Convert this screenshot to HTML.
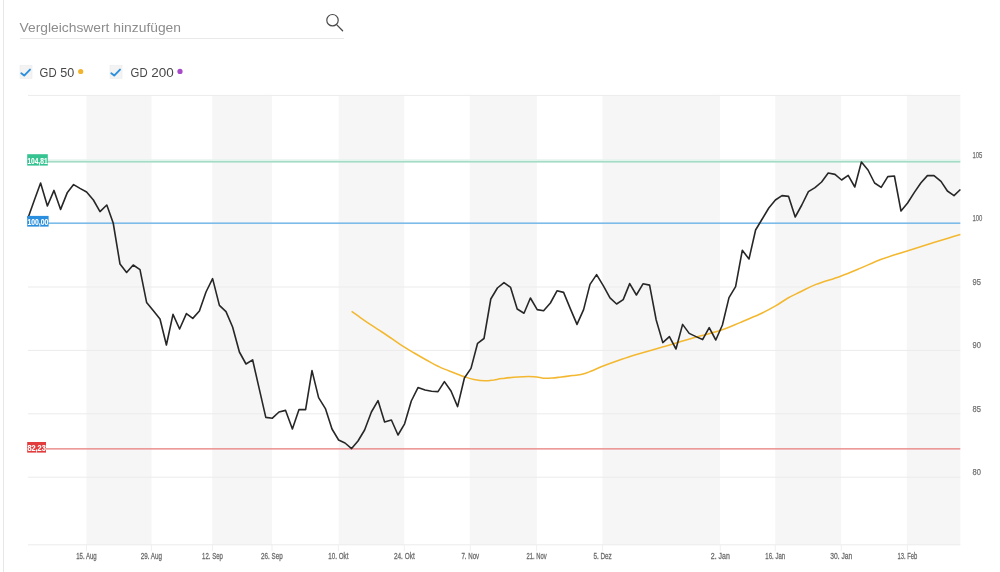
<!DOCTYPE html>
<html><head><meta charset="utf-8"><title>Chart</title>
<style>
html,body{margin:0;padding:0;background:#fff;}
body{width:1000px;height:572px;position:relative;overflow:hidden;font-family:"Liberation Sans",sans-serif;}
svg text{font-family:"Liberation Sans",sans-serif;}
.vline{position:absolute;left:3px;top:0;width:1px;height:572px;background:#e7e7e7;}
.search{position:absolute;left:20px;top:38px;width:323.5px;height:1px;background:#e9e9e9;}
.ph{position:absolute;left:19.5px;top:19px;font-size:13px;line-height:16px;color:#8d8d8d;white-space:nowrap;transform-origin:0 0;}
.lbl{position:absolute;top:64px;font-size:13px;line-height:16px;color:#4a4a4a;white-space:nowrap;transform-origin:0 0;}
</style></head><body>
<div class="vline"></div>
<div class="search"></div>
<svg width="1000" height="572" viewBox="0 0 1000 572" style="position:absolute;left:0;top:0;will-change:transform">
<rect x="86.5" y="95.4" width="65.0" height="449.4" fill="#f6f6f6"/>
<rect x="212.3" y="95.4" width="59.6" height="449.4" fill="#f6f6f6"/>
<rect x="338.7" y="95.4" width="65.5" height="449.4" fill="#f6f6f6"/>
<rect x="469.8" y="95.4" width="67.0" height="449.4" fill="#f6f6f6"/>
<rect x="602.5" y="95.4" width="117.4" height="449.4" fill="#f6f6f6"/>
<rect x="775.3" y="95.4" width="65.8" height="449.4" fill="#f6f6f6"/>
<rect x="906.8" y="95.4" width="53.5" height="449.4" fill="#f6f6f6"/>
<rect x="28" y="94.9" width="932.3" height="1" fill="#ebebeb"/>
<rect x="28" y="159.7" width="932.3" height="1" fill="#ebebeb"/>
<rect x="28" y="223.1" width="932.3" height="1" fill="#ebebeb"/>
<rect x="28" y="286.5" width="932.3" height="1" fill="#ebebeb"/>
<rect x="28" y="349.9" width="932.3" height="1" fill="#ebebeb"/>
<rect x="28" y="413.3" width="932.3" height="1" fill="#ebebeb"/>
<rect x="28" y="476.7" width="932.3" height="1" fill="#ebebeb"/>
<rect x="28" y="544.3" width="932.3" height="1" fill="#ebebeb"/>
<rect x="86.0" y="544.8" width="1" height="6.5" fill="#f0f0f0"/>
<rect x="150.9" y="544.8" width="1" height="6.5" fill="#f0f0f0"/>
<rect x="212.0" y="544.8" width="1" height="6.5" fill="#f0f0f0"/>
<rect x="271.5" y="544.8" width="1" height="6.5" fill="#f0f0f0"/>
<rect x="337.9" y="544.8" width="1" height="6.5" fill="#f0f0f0"/>
<rect x="403.8" y="544.8" width="1" height="6.5" fill="#f0f0f0"/>
<rect x="469.8" y="544.8" width="1" height="6.5" fill="#f0f0f0"/>
<rect x="536.1" y="544.8" width="1" height="6.5" fill="#f0f0f0"/>
<rect x="602.1" y="544.8" width="1" height="6.5" fill="#f0f0f0"/>
<rect x="719.8" y="544.8" width="1" height="6.5" fill="#f0f0f0"/>
<rect x="774.8" y="544.8" width="1" height="6.5" fill="#f0f0f0"/>
<rect x="840.8" y="544.8" width="1" height="6.5" fill="#f0f0f0"/>
<rect x="906.9" y="544.8" width="1" height="6.5" fill="#f0f0f0"/>
<rect x="28" y="159.5" width="932.3" height="1.4" fill="#e0f5ed"/>
<rect x="28" y="161.0" width="932.3" height="1.6" fill="#a3dcc6"/>
<rect x="28" y="222.5" width="932.3" height="1.3" fill="#62aee8"/>
<rect x="28" y="448.1" width="932.3" height="1.5" fill="#ec8f8f"/>
<path d="M351.6,311.3 C353.1,312.4 357.6,315.6 360.7,317.8 C363.8,320.0 366.8,322.1 370.2,324.4 C373.6,326.7 377.5,329.1 381.2,331.5 C384.9,333.9 388.5,336.4 392.2,338.9 C395.9,341.4 399.5,344.0 403.2,346.4 C406.9,348.8 410.3,350.7 414.2,353.0 C418.1,355.3 422.6,357.9 426.8,360.2 C431.0,362.5 435.2,364.9 439.4,366.9 C443.6,368.9 447.8,370.4 452.0,372.0 C456.2,373.6 460.9,375.6 464.6,376.8 C468.3,378.0 470.6,378.8 474.0,379.4 C477.4,380.0 481.7,380.6 485.0,380.7 C488.3,380.8 491.2,380.2 494.0,379.9 C496.8,379.5 498.0,379.1 502.0,378.6 C506.0,378.1 512.7,377.2 518.0,376.9 C523.3,376.6 529.7,376.5 534.0,376.7 C538.3,376.9 540.6,378.0 543.6,378.2 C546.6,378.4 549.3,378.2 552.0,378.0 C554.7,377.8 556.2,377.6 559.6,377.2 C563.0,376.8 568.7,376.1 572.4,375.6 C576.1,375.1 579.1,375.0 582.0,374.3 C584.9,373.6 586.8,372.9 590.0,371.6 C593.2,370.4 597.2,368.4 601.2,366.8 C605.2,365.2 609.2,363.7 614.0,362.0 C618.8,360.3 625.7,357.8 630.0,356.4 C634.3,355.0 635.0,354.8 640.0,353.4 C645.0,352.0 653.3,349.7 660.0,347.8 C666.7,345.9 673.3,343.8 680.0,341.8 C686.7,339.8 693.3,337.9 700.0,336.0 C706.7,334.1 713.3,332.8 720.0,330.6 C726.7,328.4 733.3,325.4 740.0,322.6 C746.7,319.8 754.0,316.8 760.0,314.0 C766.0,311.2 771.3,308.3 776.0,305.6 C780.7,302.9 784.0,300.3 788.0,298.0 C792.0,295.7 795.3,294.3 800.0,292.0 C804.7,289.7 809.3,287.0 816.0,284.4 C822.7,281.8 832.7,279.1 840.0,276.4 C847.3,273.7 853.0,271.3 860.0,268.4 C867.0,265.5 874.7,261.8 882.0,259.1 C889.3,256.4 896.7,254.3 904.0,252.0 C911.3,249.7 918.7,247.3 926.0,245.0 C933.3,242.7 942.3,239.9 948.0,238.2 C953.7,236.5 958.3,235.2 960.4,234.6" fill="none" stroke="#f3b830" stroke-width="1.55" stroke-linejoin="round" stroke-linecap="butt"/>
<polyline points="28.0,218.0 34.4,200.0 40.6,183.0 47.4,206.0 54.0,190.4 60.6,209.4 67.4,192.4 73.6,184.6 80.0,188.4 86.6,192.0 93.4,200.0 100.0,211.6 106.8,205.0 113.2,223.0 120.0,264.0 126.6,272.5 133.2,265.0 140.0,269.6 146.6,302.4 153.2,310.6 160.0,319.0 166.4,345.0 173.0,314.4 179.6,329.0 186.4,313.6 192.8,318.4 199.4,311.0 206.0,292.0 212.6,278.6 219.4,305.4 226.0,311.6 232.6,327.0 239.4,352.0 246.0,364.0 252.6,359.8 259.2,388.6 265.8,417.4 272.4,418.2 279.0,412.0 285.6,410.4 292.4,429.0 299.0,409.6 305.6,409.6 312.0,370.6 318.6,397.6 325.4,408.6 332.0,429.0 338.6,440.0 345.0,443.0 351.6,448.6 358.0,441.0 364.6,430.0 371.4,412.0 378.0,400.6 384.6,422.0 391.4,420.0 398.0,435.0 404.6,423.8 411.3,401.0 418.0,387.6 425.0,390.0 431.6,391.2 438.0,391.6 444.4,381.6 451.0,391.0 457.6,406.6 464.4,378.0 471.0,368.4 477.6,343.3 484.0,338.5 490.8,299.0 497.4,288.0 504.0,282.6 510.6,287.4 517.2,309.0 524.0,313.2 530.4,298.0 537.2,309.6 543.6,310.8 550.4,303.0 557.0,290.8 563.6,292.4 570.2,308.4 577.0,324.4 583.6,309.6 590.0,284.4 596.6,274.6 603.4,285.8 610.0,297.8 616.6,304.0 623.2,299.6 629.7,283.6 636.4,295.0 643.0,283.8 649.6,285.1 656.2,320.0 662.8,342.6 669.4,336.6 676.0,349.0 682.6,324.4 689.2,333.4 696.0,336.6 702.6,339.6 709.2,327.6 715.8,340.0 722.4,325.0 729.0,297.6 735.6,286.6 742.3,250.3 749.0,259.0 755.6,230.0 762.2,219.0 768.8,208.0 775.4,200.0 782.0,195.6 788.6,196.4 795.2,217.0 801.8,205.0 808.4,191.6 815.0,187.6 821.6,182.0 828.2,173.0 835.0,174.4 841.6,180.0 848.2,175.4 854.8,187.0 861.4,162.0 868.0,170.0 874.6,183.0 881.2,187.4 887.8,176.6 894.4,176.0 901.0,211.0 907.6,203.0 914.2,192.6 920.8,183.0 927.4,175.6 934.0,175.6 941.0,181.4 947.4,191.0 954.0,195.6 960.4,189.5" fill="none" stroke="#272727" stroke-width="1.6" stroke-linejoin="round" stroke-linecap="butt"/>
<rect x="27.2" y="154.2" width="20.6" height="11.4" fill="#35c491"/>
<text x="27.4" y="163.5" font-size="9.2" font-weight="bold" fill="#ffffff" stroke="#ffffff" stroke-width="0.1" textLength="20.200000000000003" lengthAdjust="spacingAndGlyphs">104,81</text>
<rect x="27.2" y="215.9" width="21.4" height="10.7" fill="#2a8fde"/>
<text x="27.4" y="224.5" font-size="9.2" font-weight="bold" fill="#ffffff" stroke="#ffffff" stroke-width="0.1" textLength="21.0" lengthAdjust="spacingAndGlyphs">100,00</text>
<rect x="27.2" y="442" width="18.8" height="10.6" fill="#e23c3c"/>
<text x="27.4" y="450.5" font-size="9.2" font-weight="bold" fill="#ffffff" stroke="#ffffff" stroke-width="0.1" textLength="18.400000000000002" lengthAdjust="spacingAndGlyphs">82,23</text>
<text x="76.2" y="559.4" font-size="9.4" fill="#6c6c6c" stroke="#6c6c6c" stroke-width="0.3" textLength="20.5" lengthAdjust="spacingAndGlyphs">15. Aug</text>
<text x="140.7" y="559.4" font-size="9.4" fill="#6c6c6c" stroke="#6c6c6c" stroke-width="0.3" textLength="21.4" lengthAdjust="spacingAndGlyphs">29. Aug</text>
<text x="202.1" y="559.4" font-size="9.4" fill="#6c6c6c" stroke="#6c6c6c" stroke-width="0.3" textLength="20.799999999999997" lengthAdjust="spacingAndGlyphs">12. Sep</text>
<text x="261.1" y="559.4" font-size="9.4" fill="#6c6c6c" stroke="#6c6c6c" stroke-width="0.3" textLength="21.7" lengthAdjust="spacingAndGlyphs">26. Sep</text>
<text x="328.3" y="559.4" font-size="9.4" fill="#6c6c6c" stroke="#6c6c6c" stroke-width="0.3" textLength="20.2" lengthAdjust="spacingAndGlyphs">10. Okt</text>
<text x="393.9" y="559.4" font-size="9.4" fill="#6c6c6c" stroke="#6c6c6c" stroke-width="0.3" textLength="20.799999999999997" lengthAdjust="spacingAndGlyphs">24. Okt</text>
<text x="461.4" y="559.4" font-size="9.4" fill="#6c6c6c" stroke="#6c6c6c" stroke-width="0.3" textLength="17.799999999999997" lengthAdjust="spacingAndGlyphs">7. Nov</text>
<text x="526.5" y="559.4" font-size="9.4" fill="#6c6c6c" stroke="#6c6c6c" stroke-width="0.3" textLength="20.2" lengthAdjust="spacingAndGlyphs">21. Nov</text>
<text x="593.4" y="559.4" font-size="9.4" fill="#6c6c6c" stroke="#6c6c6c" stroke-width="0.3" textLength="18.4" lengthAdjust="spacingAndGlyphs">5. Dez</text>
<text x="710.8" y="559.4" font-size="9.4" fill="#6c6c6c" stroke="#6c6c6c" stroke-width="0.3" textLength="19.0" lengthAdjust="spacingAndGlyphs">2. Jan</text>
<text x="765.3" y="559.4" font-size="9.4" fill="#6c6c6c" stroke="#6c6c6c" stroke-width="0.3" textLength="19.9" lengthAdjust="spacingAndGlyphs">16. Jan</text>
<text x="830.3" y="559.4" font-size="9.4" fill="#6c6c6c" stroke="#6c6c6c" stroke-width="0.3" textLength="22.0" lengthAdjust="spacingAndGlyphs">30. Jan</text>
<text x="897.4" y="559.4" font-size="9.4" fill="#6c6c6c" stroke="#6c6c6c" stroke-width="0.3" textLength="19.9" lengthAdjust="spacingAndGlyphs">13. Feb</text>
<text x="972.5" y="157.9" font-size="9.9" fill="#6f6f6f" stroke="#6f6f6f" stroke-width="0.25" textLength="9.9" lengthAdjust="spacingAndGlyphs">105</text>
<text x="972.5" y="221.3" font-size="9.9" fill="#6f6f6f" stroke="#6f6f6f" stroke-width="0.25" textLength="9.9" lengthAdjust="spacingAndGlyphs">100</text>
<text x="972.5" y="284.7" font-size="9.9" fill="#6f6f6f" stroke="#6f6f6f" stroke-width="0.25" textLength="8.4" lengthAdjust="spacingAndGlyphs">95</text>
<text x="972.5" y="348.1" font-size="9.9" fill="#6f6f6f" stroke="#6f6f6f" stroke-width="0.25" textLength="8.4" lengthAdjust="spacingAndGlyphs">90</text>
<text x="972.5" y="411.5" font-size="9.9" fill="#6f6f6f" stroke="#6f6f6f" stroke-width="0.25" textLength="8.4" lengthAdjust="spacingAndGlyphs">85</text>
<text x="972.5" y="474.9" font-size="9.9" fill="#6f6f6f" stroke="#6f6f6f" stroke-width="0.25" textLength="8.4" lengthAdjust="spacingAndGlyphs">80</text>
<text x="19.5" y="31.8" font-size="13" fill="#8d8d8d" textLength="161.5" lengthAdjust="spacingAndGlyphs">Vergleichswert hinzufügen</text>
<text x="39.6" y="76.5" font-size="13" fill="#474747" textLength="17" lengthAdjust="spacingAndGlyphs">GD</text>
<text x="60.2" y="76.5" font-size="13" fill="#474747" textLength="14" lengthAdjust="spacingAndGlyphs">50</text>
<text x="130.6" y="76.5" font-size="13" fill="#474747" textLength="17" lengthAdjust="spacingAndGlyphs">GD</text>
<text x="151.2" y="76.5" font-size="13" fill="#474747" textLength="22.5" lengthAdjust="spacingAndGlyphs">200</text>
<circle cx="332.5" cy="20.2" r="5.7" fill="none" stroke="#4a4a4a" stroke-width="1.2"/>
<line x1="336.6" y1="24.6" x2="342.6" y2="30.8" stroke="#4a4a4a" stroke-width="1.3" stroke-linecap="round"/>
<rect x="20" y="65.5" width="12" height="13" fill="#f3f3f3" stroke="#ebebeb" stroke-width="0.6"/>
<polyline points="21.3,73.3 24.2,75.6 30,69.6" fill="none" stroke="#2b8fde" stroke-width="1.9" stroke-linecap="round" stroke-linejoin="round"/>
<rect x="110" y="65.5" width="12" height="13" fill="#f3f3f3" stroke="#ebebeb" stroke-width="0.6"/>
<polyline points="111.3,73.3 114.2,75.6 120,69.6" fill="none" stroke="#2b8fde" stroke-width="1.9" stroke-linecap="round" stroke-linejoin="round"/>
<circle cx="80.7" cy="71.5" r="2.6" fill="#f2b42c"/>
<circle cx="180" cy="71.4" r="2.6" fill="#a64ac9"/>
</svg>
</body></html>
